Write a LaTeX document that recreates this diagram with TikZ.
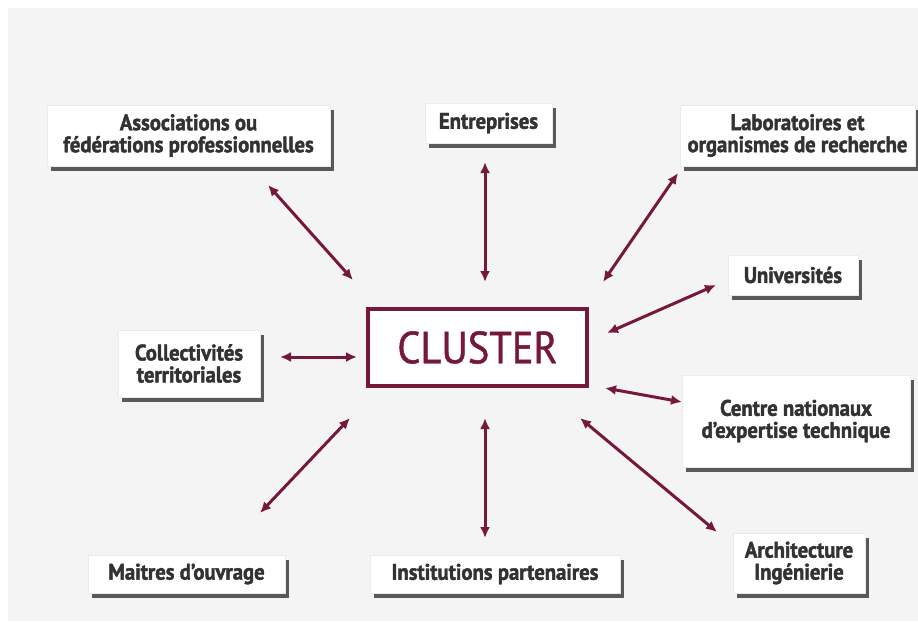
\documentclass[tikz,border=0pt]{standalone}
\usepackage{fontspec}
\newfontfamily\labfont[FakeStretch=0.92,FakeBold=1.8]{PT Sans}
\newfontfamily\clfont[FakeStretch=0.9,FakeBold=1.0]{PT Sans}
\usetikzlibrary{arrows.meta,shadows}
\definecolor{maroon}{RGB}{118,24,58}
\definecolor{bggray}{RGB}{244,244,244}
\definecolor{labgray}{RGB}{50,50,50}
\begin{document}
\begin{tikzpicture}[x=1pt,y=-1pt,
  lab/.style={fill=white, draw=black!8, inner sep=0pt, align=center,
    font=\labfont\bfseries\fontsize{22.5}{22}\selectfont, text=labgray,
    general shadow={fill=black!65, shadow xshift=4pt, shadow yshift=-5pt}},
  link/.style={maroon, line width=3pt,
    {Latex[length=11pt,width=10pt]}-{Latex[length=11pt,width=10pt]}},
  core/.style={fill=white, draw=maroon, line width=3.2pt, inner sep=0pt,
    font=\clfont\fontsize{45}{50}\selectfont, text=maroon}]
\useasboundingbox (0,0) rectangle (918,621);
\fill[white] (0,0) rectangle (918,621);
\fill[bggray] (8,8) rectangle (918,621);

\node[core, minimum width=219pt, minimum height=77pt] (cl) at (477.5,347.5) {CLUSTER};

\node[lab, minimum width=283pt, minimum height=61pt] (assoc) at (188.5,135.5) {Associations ou\\fédérations professionnelles};
\node[lab, minimum width=127pt, minimum height=40pt] (entr) at (488.5,123) {Entreprises};
\node[lab, minimum width=235pt, minimum height=61pt] (labo) at (797.5,135.5) {Laboratoires et\\organismes de recherche};
\node[lab, minimum width=130pt, minimum height=40pt] (univ) at (793,275) {Universités};
\node[lab, minimum width=142pt, minimum height=67pt] (coll) at (189,363.5) {Collectivités\\territoriales};
\node[lab, minimum width=228pt, minimum height=92pt] (cent) at (796,421) {Centre nationaux\\d’expertise technique};
\node[lab, minimum width=132pt, minimum height=60pt] (arch) at (799,563) {Architecture\\Ingénierie};
\node[lab, minimum width=197pt, minimum height=38pt] (mait) at (186.5,574) {Maitres d’ouvrage};
\node[lab, minimum width=250pt, minimum height=38pt] (inst) at (495,574) {Institutions partenaires};

\coordinate (a1) at (268,185); \coordinate (a2) at (353,280);
\coordinate (e1) at (485,162); \coordinate (e2) at (485,282);
\coordinate (l1) at (678,173); \coordinate (l2) at (603,282);
\coordinate (u1) at (716,285); \coordinate (u2) at (607,333);
\coordinate (c1) at (280,357); \coordinate (c2) at (357,357);
\coordinate (n1) at (605,388); \coordinate (n2) at (682,402);
\coordinate (m1) at (350,418); \coordinate (m2) at (260,513);
\coordinate (i1) at (485,418); \coordinate (i2) at (485,538);
\coordinate (r1) at (580,418); \coordinate (r2) at (717,532);

\draw[link] (a1) -- (a2);
\draw[link] (e1) -- (e2);
\draw[link] (l1) -- (l2);
\draw[link] (u1) -- (u2);
\draw[link] (c1) -- (c2);
\draw[link] (n1) -- (n2);
\draw[link] (m1) -- (m2);
\draw[link] (i1) -- (i2);
\draw[link] (r1) -- (r2);
\end{tikzpicture}
\end{document}
